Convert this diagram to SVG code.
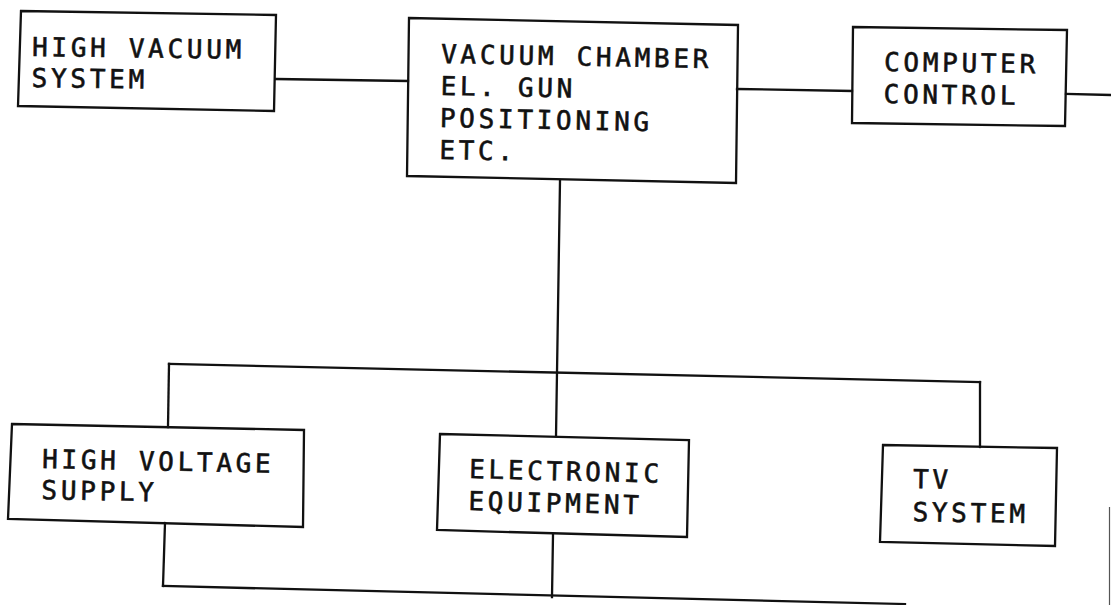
<svg xmlns="http://www.w3.org/2000/svg" width="1111" height="605" viewBox="0 0 1111 605">
<style>
.box{fill:none;stroke:#111;stroke-width:2.3;stroke-linejoin:miter}
.ln{fill:none;stroke:#111;stroke-width:2.3;stroke-linecap:square}
.t{font-family:"DejaVu Sans Mono","Liberation Mono",monospace;font-size:26px;letter-spacing:3.7px;fill:#111;stroke:#111;stroke-width:0.6}
</style>
<rect width="1111" height="605" fill="#fff"/>
<g id="connectors">
<line class="ln" x1="276" y1="79" x2="408" y2="81"/>
<line class="ln" x1="737" y1="89" x2="852" y2="91"/>
<line class="ln" x1="1066" y1="94" x2="1111" y2="95"/>
<line class="ln" x1="560" y1="181" x2="556" y2="436"/>
<line class="ln" x1="169" y1="364" x2="980" y2="382"/>
<line class="ln" x1="169" y1="364" x2="168" y2="427"/>
<line class="ln" x1="980" y1="382" x2="980" y2="447"/>
<line class="ln" x1="165" y1="523" x2="163" y2="586"/>
<line class="ln" x1="553" y1="535" x2="552" y2="597"/>
<line class="ln" x1="163" y1="586" x2="905" y2="604"/>
<line x1="1109.5" y1="507" x2="1109.5" y2="605" stroke="#555" stroke-width="1.2"/>
</g>
<g id="high-vacuum">
<polygon class="box" points="21,11 276,15 274,111 18,106"/>
<g transform="rotate(0.7 32 56)"><text class="t" x="32" y="56">HIGH VACUUM</text><text class="t" x="32" y="87">SYSTEM</text></g>
</g>
<g id="vacuum-chamber">
<polygon class="box" points="409,18 738,25 736,183 407,176"/>
<g transform="rotate(1.1 441 63)"><text class="t" x="441" y="63">VACUUM CHAMBER</text><text class="t" x="441" y="95">EL. GUN</text><text class="t" x="441" y="127">POSITIONING</text><text class="t" x="441" y="159">ETC.</text></g>
</g>
<g id="computer-control">
<polygon class="box" points="853,27 1067,30 1065,126 852,123"/>
<g transform="rotate(0.8 884 71)"><text class="t" x="884" y="71">COMPUTER</text><text class="t" x="884" y="103">CONTROL</text></g>
</g>
<g id="high-voltage">
<polygon class="box" points="12,424 304,430 303,527 8,519"/>
<g transform="rotate(1.2 42 468)"><text class="t" x="42" y="468">HIGH VOLTAGE</text><text class="t" x="42" y="499">SUPPLY</text></g>
</g>
<g id="electronic-equipment">
<polygon class="box" points="440,434 689,440 687,537 437,530"/>
<g transform="rotate(1.4 469 478)"><text class="t" x="469" y="478">ELECTRONIC</text><text class="t" x="469" y="510">EQUIPMENT</text></g>
</g>
<g id="tv-system">
<polygon class="box" points="883,445 1057,448 1055,546 880,542"/>
<g transform="rotate(1 913 488)"><text class="t" x="913" y="488">TV</text><text class="t" x="913" y="521">SYSTEM</text></g>
</g>
</svg>
